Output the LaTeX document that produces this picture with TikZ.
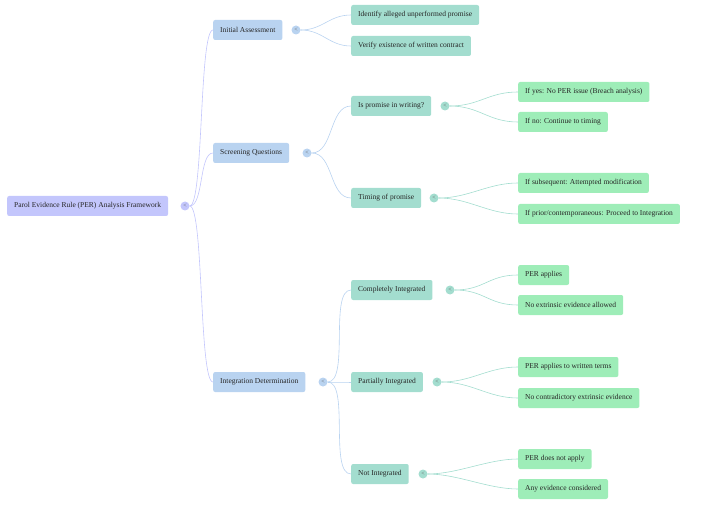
\documentclass[tikz,border=0pt]{standalone}
\usepackage{fontspec}
\setmainfont{Liberation Serif}
\usetikzlibrary{positioning}
\definecolor{rootc}{HTML}{C3C6FC}
\definecolor{lonec}{HTML}{B9D3F0}
\definecolor{ltwoc}{HTML}{A3DDCF}
\definecolor{lthreec}{HTML}{9EEDB8}
\tikzset{
  box/.style={rounded corners=2pt, minimum height=20pt, inner xsep=7pt, anchor=west, font=\fontsize{7.5}{9}\selectfont, text=black!85},
  root/.style={box, fill=rootc},
  lone/.style={box, fill=lonec},
  ltwo/.style={box, fill=ltwoc},
  lthree/.style={box, fill=lthreec},
  tog/.style={circle, inner sep=0pt, minimum size=9pt, font=\fontsize{6}{6}\selectfont, text=black!60},
  link/.style={line width=0.6pt}
}
\begin{document}
\begin{tikzpicture}[x=1pt,y=-1pt]
        \useasboundingbox (0,0) rectangle (720,505);

        \node[root] (r) at (7,206) {Parol Evidence Rule (PER) Analysis Framework};
        \node[tog, fill=rootc] (tr) at (185,206) {<};

        \node[lone] (ia) at (213,30) {Initial Assessment};
        \node[lone] (sq) at (213,153) {Screening Questions};
        \node[lone] (id) at (213,382) {Integration Determination};
        \node[tog, fill=lonec] (tia) at (296,30) {<};
        \node[tog, fill=lonec] (tsq) at (307,153) {<};
        \node[tog, fill=lonec] (tid) at (323,382) {<};

        \node[ltwo] (ia1) at (351,15) {Identify alleged unperformed promise};
        \node[ltwo] (ia2) at (351,46) {Verify existence of written contract};
        \node[ltwo] (sq1) at (351,106) {Is promise in writing?};
        \node[ltwo] (sq2) at (351,198) {Timing of promise};
        \node[ltwo] (id1) at (351,290) {Completely Integrated};
        \node[ltwo] (id2) at (351,382) {Partially Integrated};
        \node[ltwo] (id3) at (351,474) {Not Integrated};
        \node[tog, fill=ltwoc] (tsq1) at (445,106) {<};
        \node[tog, fill=ltwoc] (tsq2) at (434,198) {<};
        \node[tog, fill=ltwoc] (tid1) at (450,290) {<};
        \node[tog, fill=ltwoc] (tid2) at (437,382) {<};
        \node[tog, fill=ltwoc] (tid3) at (423,474) {<};

        \node[lthree] (a1) at (518,92) {If yes: No PER issue (Breach analysis)};
        \node[lthree] (a2) at (518,122) {If no: Continue to timing};
        \node[lthree] (b1) at (518,183) {If subsequent: Attempted modification};
        \node[lthree] (b2) at (518,214) {If prior/contemporaneous: Proceed to Integration};
        \node[lthree] (c1) at (518,275) {PER applies};
        \node[lthree] (c2) at (518,305) {No extrinsic evidence allowed};
        \node[lthree] (d1) at (518,367) {PER applies to written terms};
        \node[lthree] (d2) at (518,398) {No contradictory extrinsic evidence};
        \node[lthree] (e1) at (518,459) {PER does not apply};
        \node[lthree] (e2) at (518,489) {Any evidence considered};

        % connectors
        \foreach \s/\t in {tr/ia, tr/sq, tr/id}
            \draw[link, rootc] (\s.east) .. controls +(14,0) and +(-14,0) .. (\t.west);
        \foreach \s/\t in {tia/ia1, tia/ia2, tsq/sq1, tsq/sq2, tid/id1, tid/id2, tid/id3}
            \draw[link, lonec] (\s.east) .. controls +(22,0) and +(-22,0) .. (\t.west);
        \foreach \s/\t in {tsq1/a1, tsq1/a2, tsq2/b1, tsq2/b2, tid1/c1, tid1/c2, tid2/d1, tid2/d2, tid3/e1, tid3/e2}
            \draw[link, ltwoc] (\s.east) .. controls +(30,0) and +(-30,0) .. (\t.west);
    \end{tikzpicture}
\end{document}
